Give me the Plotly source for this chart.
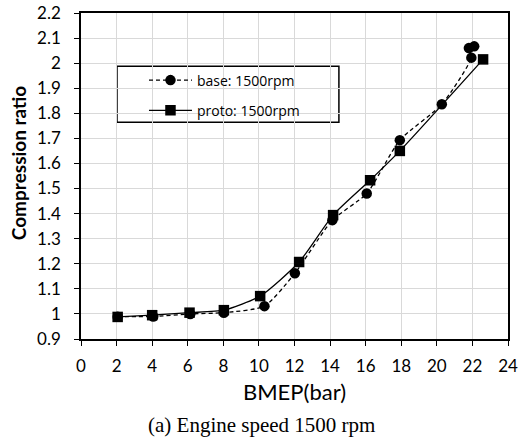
import plotly.graph_objects as go

base_x = [2.06, 4.06, 6.14, 8.03, 10.31, 12.02, 14.13, 16.06, 17.92, 20.28, 21.94, 21.8, 22.1]
base_y = [0.989, 0.99, 1.0, 1.005, 1.031, 1.162, 1.374, 1.48, 1.693, 1.836, 2.022, 2.06, 2.067]
proto_x = [2.06, 4.0, 6.1, 8.03, 10.07, 12.26, 14.17, 16.25, 17.92, 22.6]
proto_y = [0.988, 0.995, 1.005, 1.015, 1.071, 1.207, 1.394, 1.533, 1.65, 2.015]

x_ticks = list(range(0, 25, 2))
y_ticks = [0.9, 1.0, 1.1, 1.2, 1.3, 1.4, 1.5, 1.6, 1.7, 1.8, 1.9, 2.0, 2.1, 2.2]
y_labels = ["0.9", "1", "1.1", "1.2", "1.3", "1.4", "1.5", "1.6", "1.7", "1.8", "1.9", "2", "2.1", "2.2"]

fig = go.Figure()
fig.add_trace(go.Scatter(x=base_x, y=base_y, mode="lines+markers", name="base: 1500rpm",
                         line=dict(color="black", width=1.3, dash="4px,3px", shape="spline", smoothing=0.6),
                         marker=dict(symbol="circle", size=10.5, color="black"),
                         legendgroup="a"))
fig.add_trace(go.Scatter(x=proto_x, y=proto_y, mode="lines+markers", name="proto: 1500rpm",
                         line=dict(color="black", width=1.3, shape="spline", smoothing=0.6),
                         marker=dict(symbol="square", size=10.5, color="black"),
                         legendgroup="b"))

fig.add_shape(type="rect", xref="paper", yref="paper", x0=0.0843, x1=0.604, y0=0.665, y1=0.8367,
              line=dict(color="black", width=1.5), fillcolor="white", layer="below")

fig.update_layout(
    width=518, height=439,
    margin=dict(l=81, r=10, t=13, b=100),
    paper_bgcolor="white", plot_bgcolor="white",
    font=dict(family="Lato", color="black", size=15),
    showlegend=True,
    legend=dict(x=0.1475, y=0.842, xanchor="left", yanchor="top", bgcolor="rgba(0,0,0,0)",
                borderwidth=0, font=dict(size=14, family="Open Sans"), itemwidth=43,
                traceorder="grouped", tracegroupgap=9),
    xaxis=dict(range=[0, 24], tickvals=x_ticks, showgrid=True, gridcolor="#d9d9d9", gridwidth=1,
               showline=True, linecolor="black", linewidth=1.5, mirror=True, automargin=False,
               ticks="outside", ticklen=5, tickcolor="black", zeroline=False,
               ticklabelstandoff=6,
               title=dict(text="BMEP(bar)", font=dict(size=22), standoff=9),
               tickfont=dict(size=17)),
    yaxis=dict(range=[0.9, 2.2], tickvals=y_ticks, ticktext=y_labels, showgrid=True,
               gridcolor="#d9d9d9", gridwidth=1, automargin=False,
               showline=True, linecolor="black", linewidth=1.5, mirror=True,
               ticks="outside", ticklen=5, tickcolor="black", zeroline=False,
               ticklabelstandoff=10,
               tickfont=dict(size=17)),
)

fig.add_annotation(text="<b>Compression ratio</b>", xref="paper", yref="paper",
                   x=(18 - 81) / 427, y=(339 - 163) / 326.3, xanchor="center", yanchor="middle",
                   textangle=-90, showarrow=False,
                   font=dict(family="Lato", size=19, color="black"))

fig.add_annotation(text="(a) Engine speed 1500 rpm", xref="paper", yref="paper",
                   x=(261.5 - 81) / 427, y=(339 - 425) / 326.3, xanchor="center", yanchor="middle",
                   showarrow=False, font=dict(family="Liberation Serif", size=21, color="black"))

fig.write_html("out.html", config={"displayModeBar": False},
               post_script="document.body.style.margin='0';document.body.style.padding='0';")
